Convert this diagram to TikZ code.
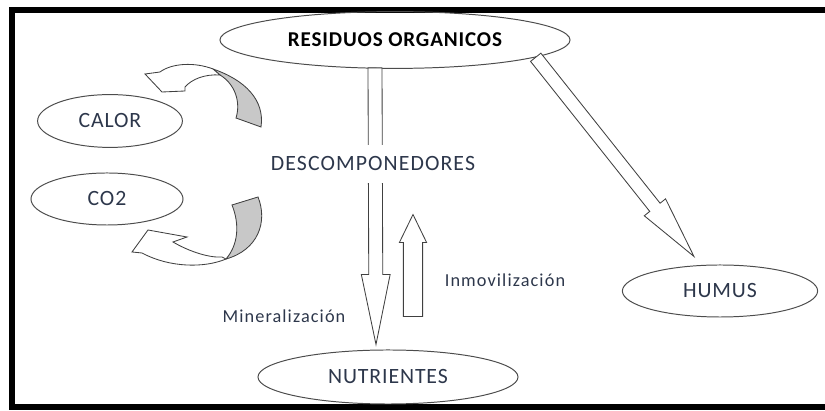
\documentclass[tikz,border=0pt]{standalone}
\usepackage{fontspec}
\setmainfont{Carlito}
\usetikzlibrary{shapes.geometric,calc}

\definecolor{inktext}{RGB}{45,55,75}
\definecolor{backface}{RGB}{200,200,200}

\tikzset{
  oval/.style={ellipse, draw=black!70, line width=0.7pt, inner sep=0pt,
    font=\fontsize{15.5}{18}\selectfont\addfontfeatures{LetterSpace=4}, text=inktext},
  flowtext/.style={font=\fontsize{13}{15}\selectfont\addfontfeatures{LetterSpace=6}, text=inktext},
  blockarrow/.style={draw=black!75, fill=white, line width=0.6pt, line join=miter},
}

% block arrow: #1 from, #2 to, #3 half shaft, #4 half head, #5 head length
\newcommand{\blockarr}[5]{%
  \coordinate (ba-h) at ($(#2)!#5!(#1)$);
  \draw[blockarrow] ($(#1)!#3!90:(#2)$) -- ($(ba-h)!#3!90:(#2)$)
    -- ($(ba-h)!#4!90:(#2)$) -- (#2) -- ($(ba-h)!#4!-90:(#2)$)
    -- ($(ba-h)!#3!-90:(#2)$) -- ($(#1)!#3!-90:(#2)$) -- cycle;
}

\begin{document}
\begin{tikzpicture}[x=0.025cm, y=-0.025cm]
\useasboundingbox (0,0) rectangle (825,411);

% frame
\draw[line width=4.5pt] (12,10) rectangle (832,407);

% ovals
\node[oval, minimum width=8.75cm, minimum height=1.42cm,
  font=\bfseries\fontsize{15}{18}\selectfont\addfontfeatures{LetterSpace=4}, text=black] (res) at (395,40) {RESIDUOS ORGANICOS};
\node[oval, minimum width=3.62cm, minimum height=1.32cm] (calor) at (110,121) {CALOR};
\node[oval, minimum width=3.8cm, minimum height=1.3cm] (co2) at (107,199) {CO2};
\node[oval, minimum width=6.5cm, minimum height=1.35cm] (nutr) at (388,377) {NUTRIENTES};
\node[oval, minimum width=4.88cm, minimum height=1.3cm] (humus) at (720,291) {HUMUS};

% arrow ends
\coordinate (downtop) at ($(res.south)+(-20,-1)$);
\coordinate (downtip) at ($(nutr.north)+(-12,-5)$);
\coordinate (upbase) at ($(nutr.north)+(25,-33)$);
\coordinate (uptip) at ($(nutr.north)+(25,-135)$);
\coordinate (humtip) at ($(humus.north)+(-26,-8)$);

% block arrows
\blockarr{downtop}{downtip}{0.175cm}{0.36cm}{1.75cm}
\blockarr{upbase}{uptip}{0.24cm}{0.34cm}{0.7cm}
\blockarr{res.-7}{humtip}{0.165cm}{0.34cm}{1.57cm}

% curved arrow towards CALOR
\draw[blockarrow, fill=backface] (213,69) .. controls (245,80) and (265,100) .. (261,127)
  -- (236,118) .. controls (241,102) and (235,84) .. (220,75) -- cycle;
\draw[blockarrow] (213,69) .. controls (195,62) and (172,63) .. (160,72) -- (145,74)
  -- (162,92) -- (185,91) -- (185,87) .. controls (192,79) and (205,74) .. (220,75) -- cycle;

% curved arrow towards CO2
\draw[blockarrow, fill=backface] (232,205) -- (258,197) .. controls (268,222) and (258,250) .. (226,259)
  .. controls (238,245) and (240,225) .. (232,205) -- cycle;
\draw[blockarrow] (226,259) .. controls (205,268) and (170,268) .. (142,253) -- (132,252)
  -- (148,230) -- (187,237) -- (173,242) .. controls (190,252) and (210,258) .. (222,257) -- cycle;

% labels
\node[flowtext, font=\fontsize{15.5}{18}\selectfont\addfontfeatures{LetterSpace=5}, fill=white,
  inner xsep=2pt, inner ysep=0.3cm] (desc) at (373,164) {DESCOMPONEDORES};
\node[flowtext] (mineral) at (284,316) {Mineralización};
\node[flowtext] (inmov) at (505,280) {Inmovilización};
\end{tikzpicture}
\end{document}
